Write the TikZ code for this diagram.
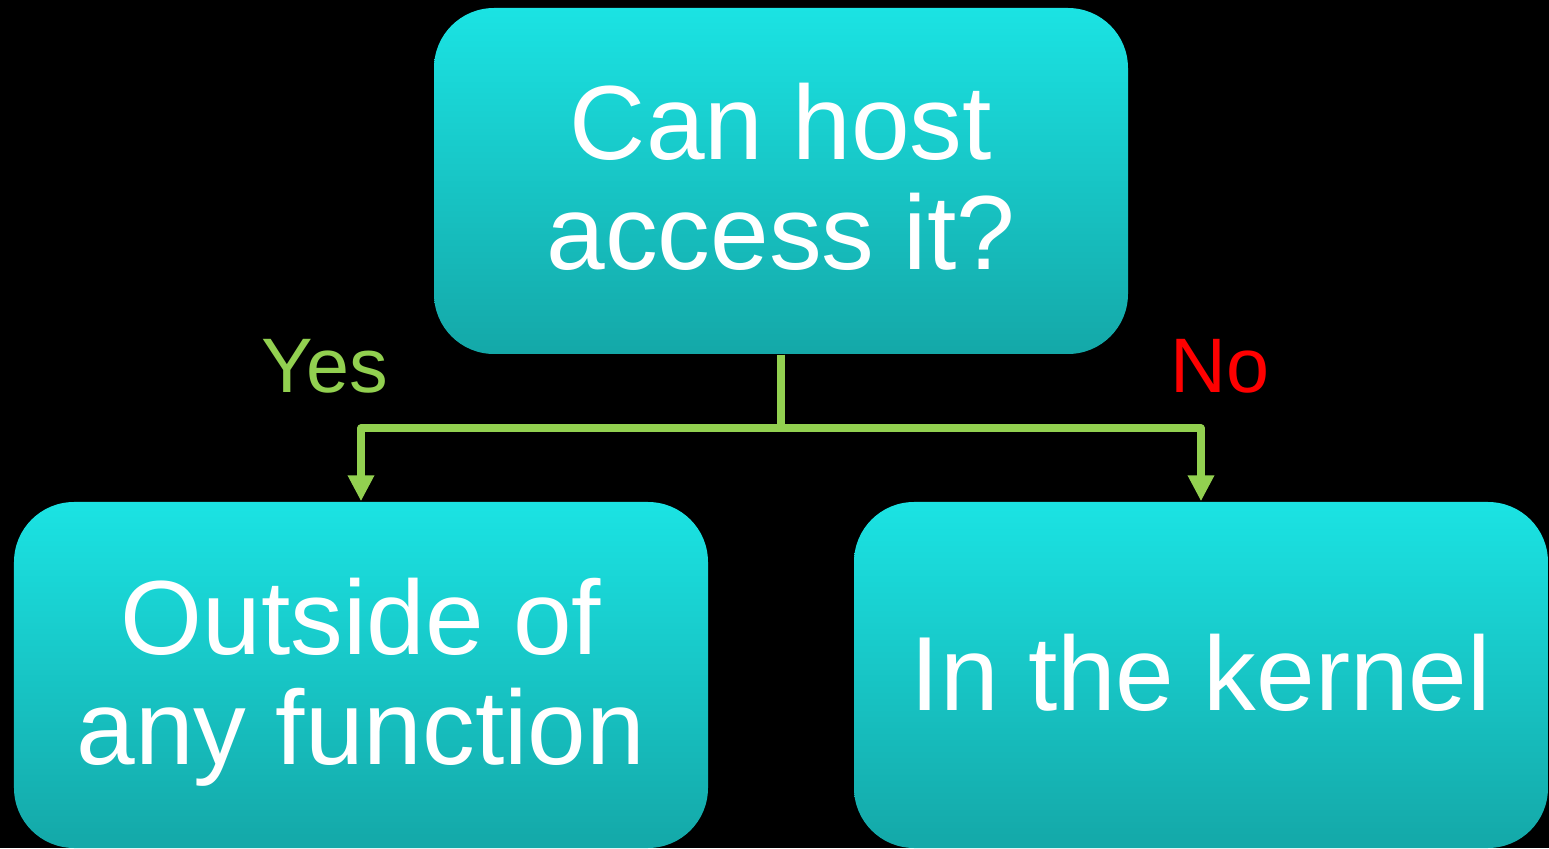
\documentclass[tikz,border=0pt]{standalone}
\usepackage{fontspec}
\setmainfont{Liberation Sans}
\usetikzlibrary{arrows.meta}
\definecolor{boxtop}{RGB}{27,227,227}
\definecolor{boxbottom}{RGB}{20,168,168}
\definecolor{yesgreen}{RGB}{146,208,80}
\definecolor{nored}{RGB}{255,0,0}

\begin{document}
\begin{tikzpicture}
[
    answer/.style={rounded corners=0.6cm, top color=boxtop, bottom color=boxbottom,
        minimum width=6.94cm, minimum height=3.46cm, inner sep=0pt,
        text=white, align=center, text depth=0pt, font=\fontsize{30}{31.5}\selectfont},
    link/.style={draw=yesgreen, line width=2pt, line join=round,
        -{Triangle[width=0.25cm, length=0.26cm]}},
    branch/.style={anchor=base, font=\fontsize{22}{24}\selectfont},
]
\fill[black] (0,0) rectangle (15.49,8.48);
\useasboundingbox (0,0) rectangle (15.49,8.48);

\node[answer, text height=1.78cm] (question) at (7.81,6.67) {Can host\\access it?};
\node[answer, text height=1.80cm] (outside) at (3.61,1.73) {Outside of\\any function};
\node[answer, text height=0.70cm] (kernel) at (12.01,1.73) {In the kernel};

\coordinate (split) at (7.81,4.20);
\draw[link] (question.south) -- (split) -| (outside.north);
\draw[link] (question.south) -- (split) -| (kernel.north);

\node[branch, text=yesgreen] (yes) at (3.25,4.55) {Yes};
\node[branch, text=nored] (no) at (12.20,4.55) {No};
\end{tikzpicture}
\end{document}
